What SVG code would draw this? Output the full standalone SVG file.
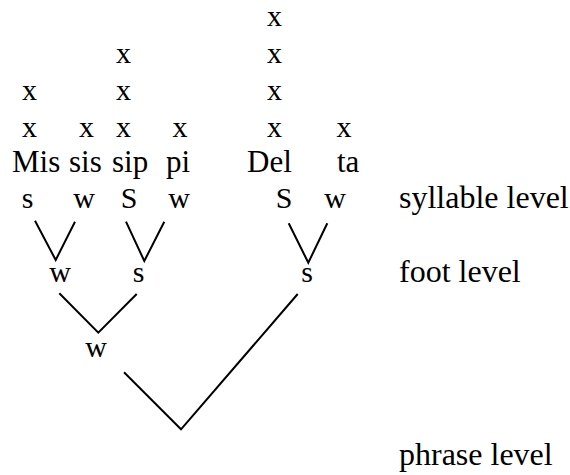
<svg xmlns="http://www.w3.org/2000/svg" width="570" height="475" viewBox="0 0 570 475">
  <style>
    text { font-family: "Liberation Serif", "Times New Roman", serif; font-size: 30px; fill: #000; }
    .c { text-anchor: middle; }
    .syl { font-size: 31px; }
    .lbl { font-size: 32px; }
    .edge { fill: none; stroke: #000; stroke-width: 2; stroke-linejoin: miter; }
  </style>
  <rect width="570" height="475" fill="#fff"/>

  <!-- metrical grid -->
  <g id="grid">
    <text class="c" x="274.5" y="26">x</text>
    <text class="c" x="123.5" y="63">x</text>
    <text class="c" x="274.5" y="63">x</text>
    <text class="c" x="29.5" y="100">x</text>
    <text class="c" x="123.5" y="100">x</text>
    <text class="c" x="274.5" y="100">x</text>
    <text class="c" x="29.5" y="137">x</text>
    <text class="c" x="86.5" y="137">x</text>
    <text class="c" x="123.5" y="137">x</text>
    <text class="c" x="180" y="137">x</text>
    <text class="c" x="274.5" y="137">x</text>
    <text class="c" x="344" y="137">x</text>
  </g>

  <!-- syllables -->
  <g id="syllables">
    <text class="syl" x="12" y="172">Mis</text>
    <text class="syl" x="69" y="172">sis</text>
    <text class="syl" x="112" y="172">sip</text>
    <text class="syl" x="166" y="172">pi</text>
    <text class="syl" x="247" y="172">Del</text>
    <text class="syl" x="337" y="172">ta</text>
  </g>

  <!-- syllable level nodes -->
  <g id="syl-s1"><text class="c" x="27.5" y="208">s</text></g>
  <g id="syl-w1"><text class="c" x="84" y="208">w</text></g>
  <g id="syl-S2"><text class="c" x="129" y="208">S</text></g>
  <g id="syl-w2"><text class="c" x="179" y="208">w</text></g>
  <g id="syl-S3"><text class="c" x="284" y="208">S</text></g>
  <g id="syl-w3"><text class="c" x="335" y="208">w</text></g>

  <!-- foot level nodes -->
  <g id="foot-w"><text class="c" x="60" y="282">w</text></g>
  <g id="foot-s1"><text class="c" x="138.5" y="282">s</text></g>
  <g id="foot-s2"><text class="c" x="307" y="282">s</text></g>

  <!-- phrase level node -->
  <g id="phrase-w"><text class="c" x="96" y="357">w</text></g>

  <!-- level labels -->
  <g id="labels">
    <text class="lbl" x="399" y="208">syllable level</text>
    <text class="lbl" x="399" y="282">foot level</text>
    <text class="lbl" x="399" y="465">phrase level</text>
  </g>

  <!-- branches -->
  <g id="connectors">
    <polyline class="edge" points="35,220.7 55.7,260 75,221.7"/>
    <polyline class="edge" points="126,221.7 144.3,261 164.3,221.7"/>
    <polyline class="edge" points="288.7,223.3 308.3,262.7 327.3,223.3"/>
    <polyline class="edge" points="59.3,293.3 98.3,332.7 136.7,294"/>
    <polyline class="edge" points="124,372.3 181,429.3 297.7,294"/>
  </g>
</svg>
